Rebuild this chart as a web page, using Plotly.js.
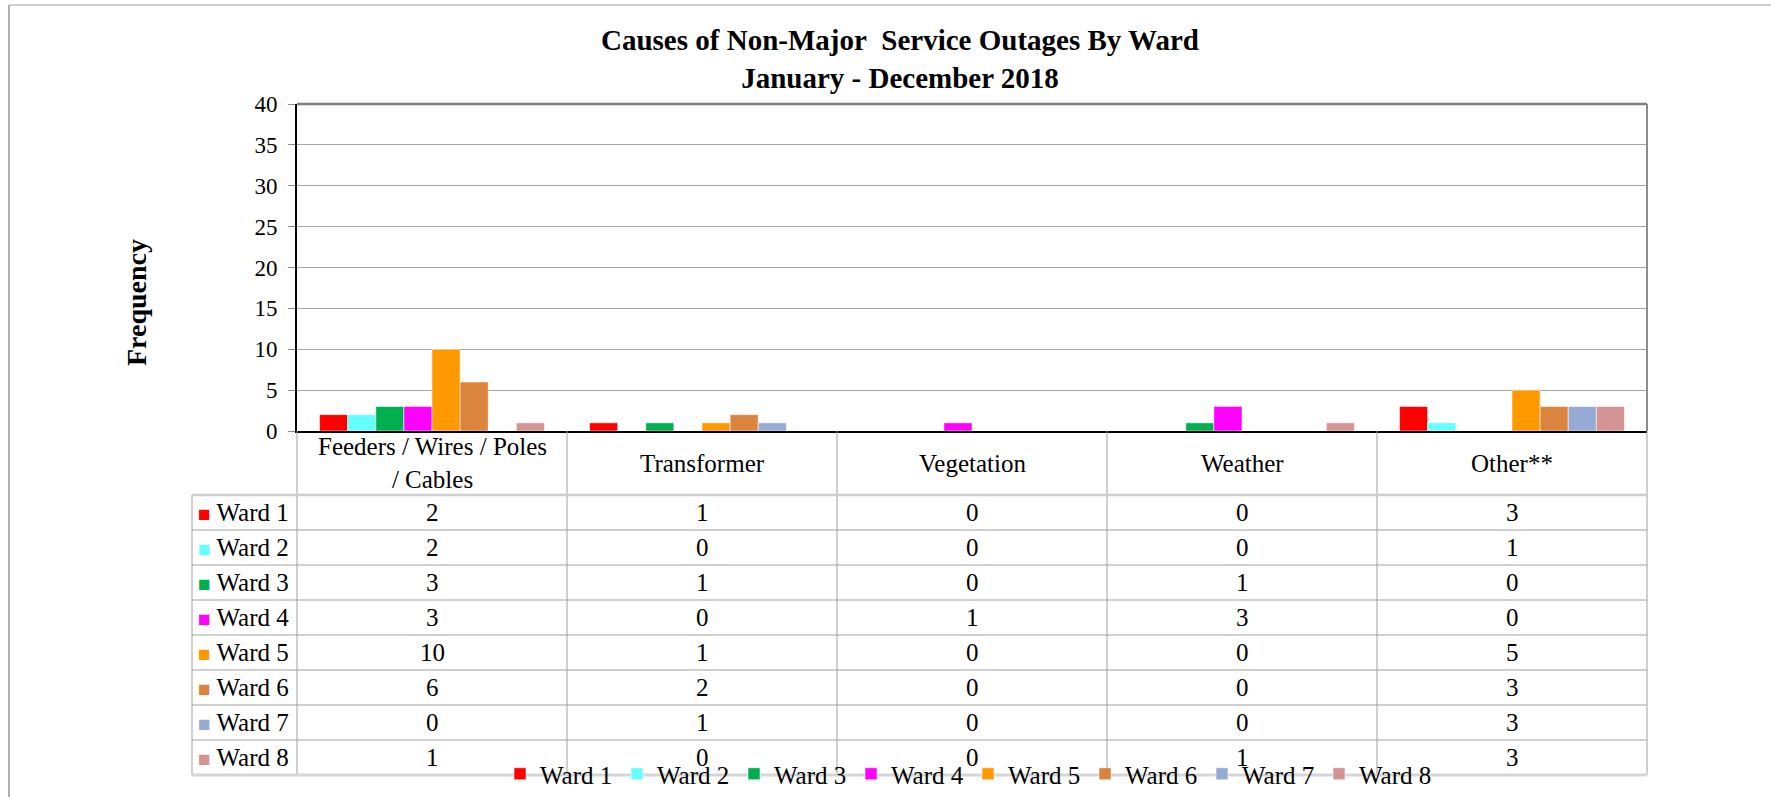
<!DOCTYPE html>
<html>
<head>
<meta charset="utf-8">
<script src="https://cdn.plot.ly/plotly-3.0.1.min.js"></script>
<style>html,body{margin:0;padding:0;background:#fff;}#chart{width:1771px;height:797px;}</style>
</head>
<body>
<div id="chart"></div>
<script>
// ---- data ----
const categories = ["Feeders / Wires / Poles<br>/ Cables", "Transformer", "Vegetation", "Weather", "Other**"];
const wardNames = ["Ward 1", "Ward 2", "Ward 3", "Ward 4", "Ward 5", "Ward 6", "Ward 7", "Ward 8"];
const ward1 = [2, 1, 0, 0, 3];
const ward2 = [2, 0, 0, 0, 1];
const ward3 = [3, 1, 0, 1, 0];
const ward4 = [3, 0, 1, 3, 0];
const ward5 = [10, 1, 0, 0, 5];
const ward6 = [6, 2, 0, 0, 3];
const ward7 = [0, 1, 0, 0, 3];
const ward8 = [1, 0, 0, 1, 3];
const wardColors = ["#FF0000", "#66FFFF", "#00B050", "#FF00FF", "#FF9900", "#DB843D", "#95ABD3", "#D39493"];
const yTicks = [0, 5, 10, 15, 20, 25, 30, 35, 40];

const wardValues = [ward1, ward2, ward3, ward4, ward5, ward6, ward7, ward8];

// ---- layout geometry (pixels) ----
const W = 1771, H = 797;
const L = 297, R = 1647, T = 104, B = 431;
const pw = R - L, ph = B - T;
const px2x = p => (p - L) / pw;
const px2y = p => (B - p) / ph;
const headerBottom = 495, rowH = 35, leftColX = 192;
const tableBottom = headerBottom + rowH * wardNames.length;

const FONT = "Liberation Serif, Times New Roman, serif";
const TS = 25;

const traces = wardNames.map((name, i) => ({
  type: "bar",
  name: name,
  x: categories,
  y: wardValues[i],
  marker: { color: wardColors[i], line: { color: "rgba(255,255,255,0.55)", width: 1 } },
  hoverinfo: "x+y+name"
}));

const annotations = [];
// y-axis title
annotations.push({
  xref: "paper", yref: "paper", x: px2x(136), y: px2y(303),
  text: "<b>Frequency</b>", textangle: -90, showarrow: false, xanchor: "center", yanchor: "middle",
  font: { family: FONT, size: 28, color: "#000" }
});
// header row
categories.forEach(c => {
  annotations.push({
    xref: "x", yref: "paper", x: c, y: px2y((B + headerBottom) / 2),
    text: c, showarrow: false, xanchor: "center", yanchor: "middle",
    font: { family: FONT, size: TS, color: "#000" }
  });
});
// rows
wardNames.forEach((name, i) => {
  const yc = px2y(headerBottom + rowH * (i + 0.5));
  annotations.push({
    xref: "paper", yref: "paper", x: px2x(196), y: yc,
    text: '<span style="color:' + wardColors[i] + ';font-size:21px">■</span> ' + name,
    showarrow: false, xanchor: "left", yanchor: "middle",
    font: { family: FONT, size: TS, color: "#000" }
  });
  categories.forEach((c, j) => {
    annotations.push({
      xref: "x", yref: "paper", x: c, y: yc,
      text: String(wardValues[i][j]), showarrow: false, xanchor: "center", yanchor: "middle",
      font: { family: FONT, size: TS, color: "#000" }
    });
  });
});

const shapes = [];
const gridC = "#A0A0A0";
// outer frame
shapes.push({ type: "line", xref: "paper", yref: "paper", x0: px2x(9), x1: px2x(W), y0: px2y(5), y1: px2y(5), line: { color: "#CFCFCF", width: 2 } });
shapes.push({ type: "line", xref: "paper", yref: "paper", x0: px2x(9), x1: px2x(9), y0: px2y(5), y1: px2y(H), line: { color: "#B0B0B0", width: 2 } });
// plot border top & right
shapes.push({ type: "line", xref: "paper", yref: "paper", x0: 0, x1: 1, y0: 1, y1: 1, line: { color: "#808080", width: 2.5 } });
shapes.push({ type: "line", xref: "paper", yref: "paper", x0: 1, x1: 1, y0: 0, y1: 1, line: { color: "#8C8C8C", width: 2 } });
// table vertical lines
for (let k = 0; k <= categories.length; k++) {
  shapes.push({ type: "line", xref: "paper", yref: "paper", x0: k / categories.length, x1: k / categories.length, y0: px2y(B), y1: px2y(tableBottom), line: { color: gridC, width: 1 } });
}
shapes.push({ type: "line", xref: "paper", yref: "paper", x0: px2x(leftColX), x1: px2x(leftColX), y0: px2y(headerBottom), y1: px2y(tableBottom), line: { color: gridC, width: 1 } });
// table horizontal lines
for (let r = 1; r < wardNames.length; r++) {
  const yy = px2y(headerBottom + rowH * r);
  shapes.push({ type: "line", xref: "paper", yref: "paper", x0: px2x(leftColX), x1: 1, y0: yy, y1: yy, line: { color: gridC, width: 1 } });
}
shapes.push({ type: "line", xref: "paper", yref: "paper", x0: px2x(leftColX), x1: 1, y0: px2y(headerBottom), y1: px2y(headerBottom), line: { color: "#CFCFCF", width: 2.5 } });
shapes.push({ type: "line", xref: "paper", yref: "paper", x0: px2x(leftColX), x1: 1, y0: px2y(tableBottom), y1: px2y(tableBottom), line: { color: "#D6D6D6", width: 3 } });

const layout = {
  width: W, height: H,
  margin: { l: L, r: W - R, t: T, b: H - B, pad: 0 },
  paper_bgcolor: "#fff", plot_bgcolor: "#fff",
  font: { family: FONT, color: "#000" },
  title: {
    text: "<b>Causes of Non-Major&nbsp; Service Outages By Ward<br>January - December 2018</b>",
    font: { family: FONT, size: 29, color: "#000" },
    x: 900 / W, xanchor: "center", y: 1 - 50 / H, yanchor: "middle"
  },
  barmode: "group",
  bargap: 0.167,
  bargroupgap: 0,
  showlegend: true,
  legend: {
    orientation: "h", xref: "paper", x: px2x(500), xanchor: "left",
    yref: "container", y: 1 - 774 / H, yanchor: "middle",
    entrywidth: 72, entrywidthmode: "pixels", bgcolor: "rgba(0,0,0,0)",
    font: { family: FONT, size: TS, color: "#000" }, traceorder: "normal", itemclick: false
  },
  xaxis: {
    type: "category", range: [-0.5, categories.length - 0.5], showticklabels: false,
    showline: true, linecolor: "#000", linewidth: 2, ticks: "", showgrid: false, zeroline: false, fixedrange: true
  },
  yaxis: {
    range: [0, 40], tickvals: yTicks, ticktext: yTicks.map(String),
    showline: true, linecolor: "#000", linewidth: 2, ticks: "outside", ticklen: 7, tickcolor: "#8C8C8C",
    showgrid: true, gridcolor: "#A6A6A6", gridwidth: 1, zeroline: false,
    tickfont: { family: FONT, size: 23, color: "#000" }, ticklabelstandoff: 6,
    fixedrange: true
  },
  annotations: annotations,
  shapes: shapes
};

Plotly.newPlot("chart", traces, layout, { displayModeBar: false });
</script>
</body>
</html>
